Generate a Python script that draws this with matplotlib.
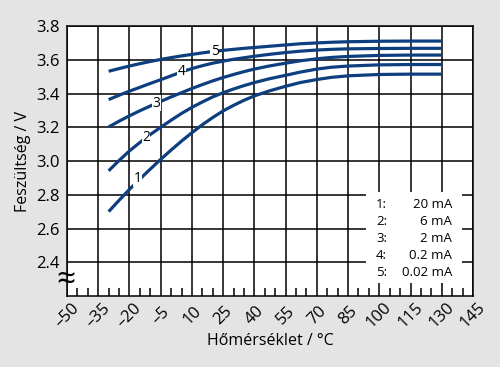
import matplotlib
matplotlib.use("Agg")
import matplotlib.pyplot as plt
from matplotlib.patches import Rectangle
from matplotlib.ticker import MultipleLocator

plt.rcParams['font.family'] = ['Open Sans', 'DejaVu Sans']

# Data
temps = [-30, -25, -20, -15, -10, -5, 0, 5, 10, 15, 20, 25, 30, 35, 40, 47, 55, 62, 70, 77, 85, 100, 115, 130]
v_20mA = [2.700, 2.767, 2.832, 2.893, 2.952, 3.010, 3.065, 3.118, 3.168, 3.215, 3.258, 3.297, 3.330,
          3.360, 3.386, 3.415, 3.443, 3.465, 3.483, 3.496, 3.505, 3.513, 3.515, 3.515]
v_6mA = [2.942, 3.003, 3.060, 3.110, 3.157, 3.200, 3.242, 3.282, 3.318, 3.350, 3.380, 3.405, 3.427,
         3.447, 3.465, 3.487, 3.508, 3.527, 3.545, 3.556, 3.563, 3.570, 3.572, 3.572]
v_2mA = [3.202, 3.236, 3.268, 3.298, 3.326, 3.353, 3.380, 3.405, 3.430, 3.453, 3.475, 3.495, 3.513,
         3.530, 3.545, 3.563, 3.580, 3.594, 3.606, 3.614, 3.620, 3.626, 3.628, 3.628]
v_02mA = [3.364, 3.390, 3.414, 3.437, 3.460, 3.482, 3.505, 3.528, 3.548, 3.565, 3.580, 3.592, 3.603,
          3.612, 3.621, 3.632, 3.643, 3.651, 3.658, 3.662, 3.665, 3.667, 3.668, 3.668]
v_002mA = [3.532, 3.548, 3.563, 3.577, 3.590, 3.602, 3.613, 3.623, 3.632, 3.641, 3.649, 3.656, 3.662,
           3.668, 3.673, 3.680, 3.688, 3.695, 3.700, 3.704, 3.707, 3.710, 3.711, 3.711]
series = [v_20mA, v_6mA, v_2mA, v_02mA, v_002mA]
curve_ids = ['1', '2', '3', '4', '5']
label_pos = [(-16, 2.895), (-12, 3.138), (-7, 3.343), (5, 3.530), (21, 3.652)]
legend_ids = ['1:', '2:', '3:', '4:', '5:']
legend_vals = ['20 mA', '6 mA', '2 mA', '0.2 mA', '0.02 mA']
xticks = list(range(-50, 146, 15))
xticklabels = [str(t).replace('-', '\u2013') for t in xticks]
yticks = [2.4, 2.6, 2.8, 3.0, 3.2, 3.4, 3.6, 3.8]

bg = '#e4e4e4'
blue = '#0d3f7e'

fig = plt.figure(figsize=(5.0, 3.67), dpi=100, facecolor=bg)
ax = fig.add_axes([0.134, 0.1935, 0.812, 0.7355])
ax.set_facecolor('white')
ax.set_xlim(-50, 145)
ax.set_ylim(2.2, 3.8)

ax.set_xticks(xticks)
ax.set_xticklabels(xticklabels)
ax.xaxis.set_minor_locator(MultipleLocator(5))
ax.set_yticks(yticks)
ax.set_yticklabels([f'{v:.1f}' for v in yticks])
ax.grid(True, which='major', color='black', linewidth=1.1, zorder=1)
ax.set_axisbelow(True)
for s in ax.spines.values():
    s.set_linewidth(1.1)
    s.set_zorder(6)

ax.tick_params(axis='x', which='major', length=0, pad=14, labelsize=12)
ax.tick_params(axis='x', which='minor', direction='in', length=6, width=1.1, color='black')
ax.tick_params(axis='y', which='major', length=0, pad=5, labelsize=12)
plt.setp(ax.get_xticklabels(), rotation=45, ha='center', va='center', rotation_mode='anchor')

for vals in series:
    ax.plot(temps, vals, color=blue, linewidth=2.3, solid_capstyle='butt', zorder=3)

for cid, (lx, ly) in zip(curve_ids, label_pos):
    ax.text(lx, ly, cid, fontsize=10, ha='center', va='center', zorder=4,
            bbox=dict(facecolor='white', edgecolor='none', pad=0.3))

# legend box
ax.add_patch(Rectangle((93.6, 2.277), 46.1, 0.538, facecolor='white', edgecolor='none', zorder=2))
rows_y = [2.744, 2.643, 2.543, 2.442, 2.341]
for lid, lval, ry in zip(legend_ids, legend_vals, rows_y):
    ax.text(98.4, ry, lid, fontsize=9.5, ha='left', va='center', zorder=4)
    ax.text(134.9, ry, lval, fontsize=9.5, ha='right', va='center', zorder=4)

# axis break symbol
ax.text(-50.5, 2.29, '\u2248', fontsize=24, ha='center', va='center', clip_on=False, zorder=7)

ax.set_xlabel('H\u0151m\u00e9rs\u00e9klet / \u00b0C', fontsize=11.5, labelpad=1)
ax.set_ylabel('Fesz\u00fclts\u00e9g / V', fontsize=11.5, labelpad=4)

fig.savefig('out.png', dpi=100, facecolor=bg)
